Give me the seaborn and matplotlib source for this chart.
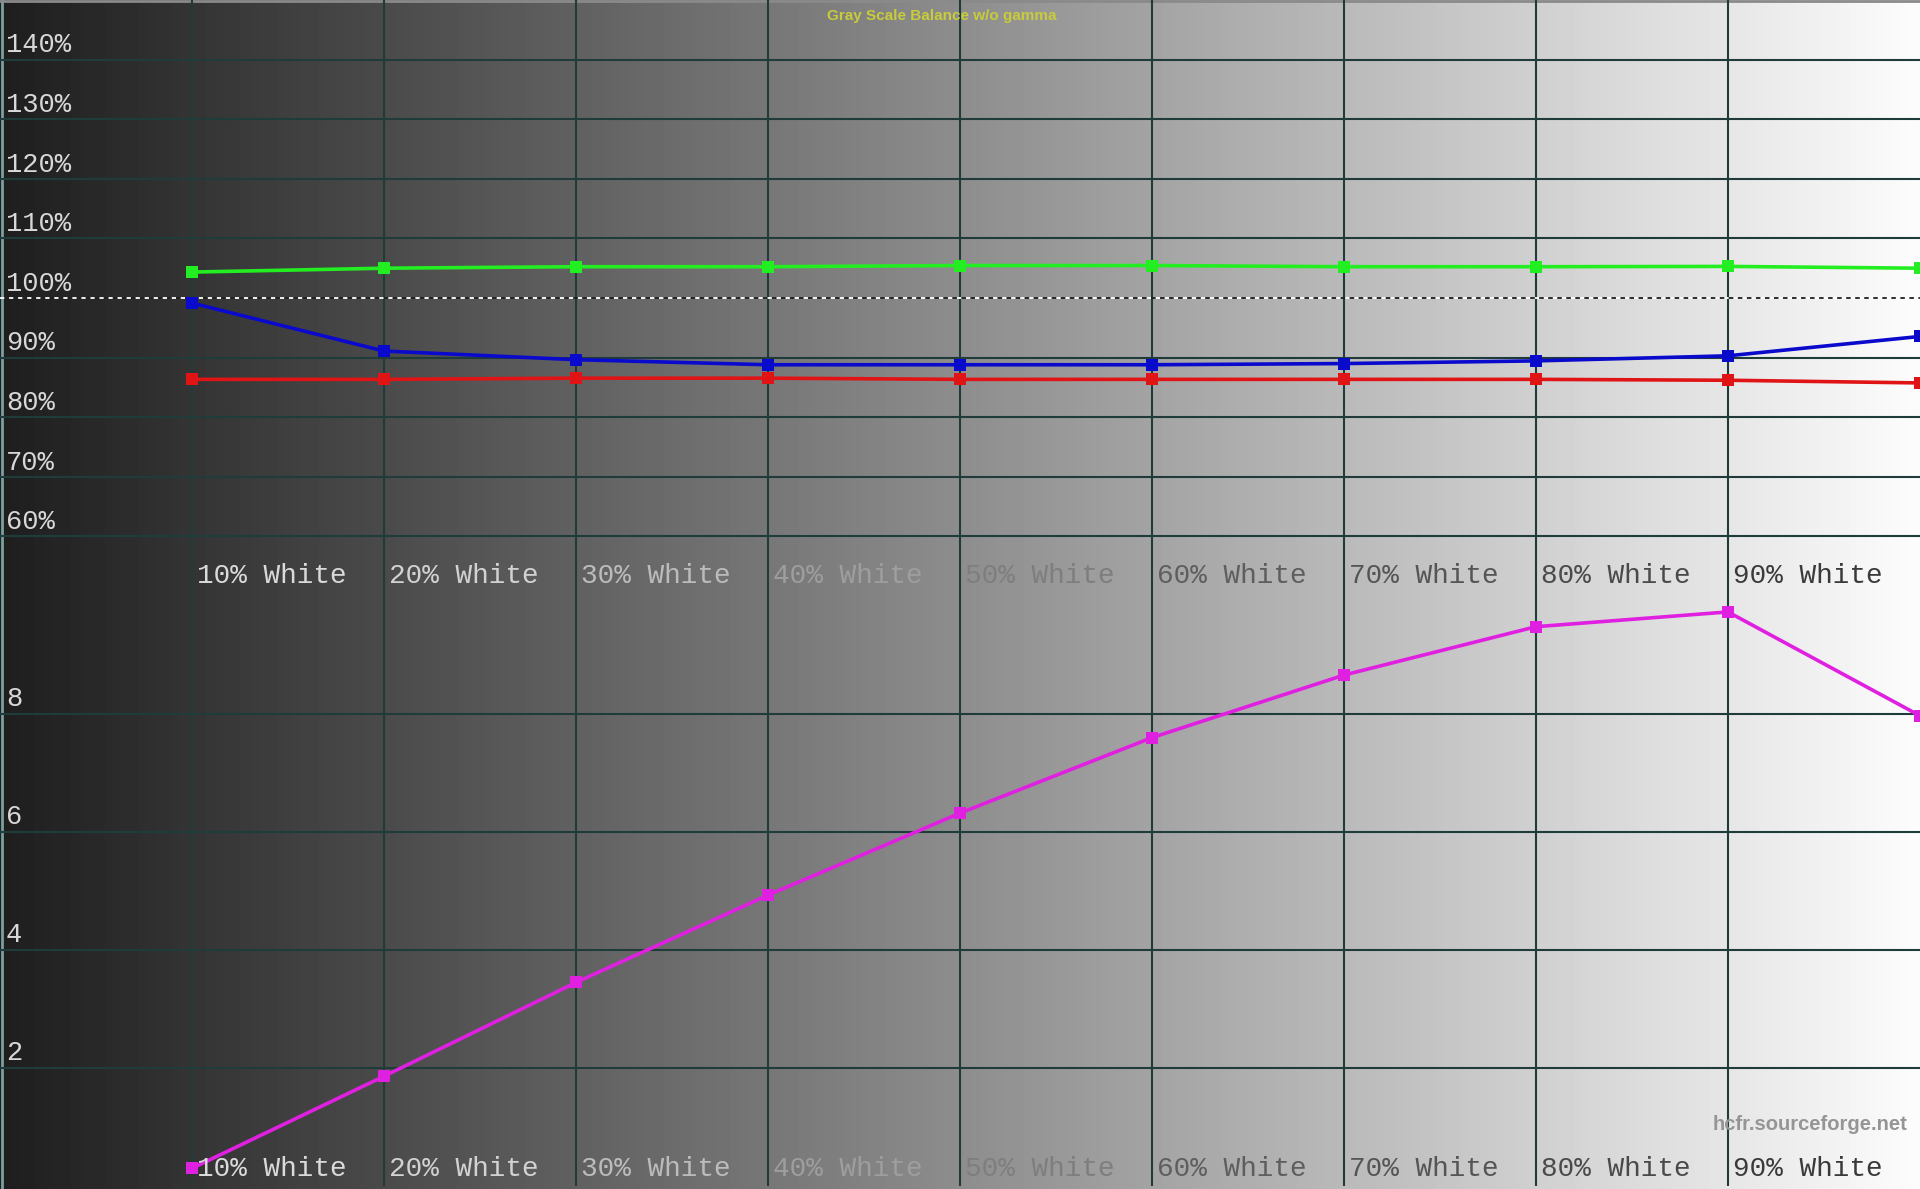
import numpy as np
import pandas as pd
import seaborn as sns
import matplotlib.pyplot as plt

# valeurs
levels = [10, 20, 30, 40, 50, 60, 70, 80, 90, 100]
red = [86.35, 86.35, 86.55, 86.55, 86.35, 86.35, 86.35, 86.35, 86.2, 85.75]
green = [104.35, 105.0, 105.25, 105.25, 105.45, 105.45, 105.25, 105.25, 105.3, 105.0]
blue = [99.15, 91.1, 89.65, 88.8, 88.8, 88.8, 89.0, 89.45, 90.3, 93.55]
delta_e = [0.3, 1.86, 3.45, 4.93, 6.32, 7.6, 8.66, 9.48, 9.73, 7.97]

pct_ticks = [60, 70, 80, 90, 100, 110, 120, 130, 140]
de_ticks = [2, 4, 6, 8]
x_labels = ['10% White', '20% White', '30% White', '40% White', '50% White',
            '60% White', '70% White', '80% White', '90% White']
x_label_colors = ['#dadada', '#d2d2d2', '#bcbcbc', '#9e9e9e', '#7e7e7e',
                  '#5e5e5e', '#555555', '#4a4a4a', '#3a3a3a']

W, H = 1920, 1189
fig = plt.figure(figsize=(W / 100, H / 100), dpi=100)

# fond en dégradé gris
bg = fig.add_axes([0, 0, 1, 1])
grad = np.linspace(0x1e, 0xfc, 512) / 255.0
bg.imshow(np.tile(grad, (2, 1)), cmap='gray', vmin=0, vmax=1, aspect='auto',
          extent=[0, 1, 0, 1])
bg.set_axis_off()

top_px, mid_px, bot_px = 0, 596, 1186
ax1 = fig.add_axes([0, (H - mid_px) / H, 1, (mid_px - top_px) / H])
ax2 = fig.add_axes([0, (H - bot_px) / H, 1, (bot_px - mid_px) / H])

grid_c = '#1f3b3a'
mono = 'Liberation Mono'

for ax in (ax1, ax2):
    ax.patch.set_alpha(0)
    for s in ax.spines.values():
        s.set_visible(False)
    for x in levels[:-1]:
        ax.axvline(x, color=grid_c, lw=1.5, zorder=1)

for v in pct_ticks:
    if v != 100:
        ax1.axhline(v, color=grid_c, lw=1.5, zorder=1)
    ax1.text(6 / W, v + 1.2, f'{v}%', transform=ax1.get_yaxis_transform(),
             fontsize=19.5, family=mono, color='#d8d8d8', va='baseline')
for v in de_ticks:
    ax2.axhline(v, color=grid_c, lw=1.5, zorder=1)
    ax2.text(6 / W, v + 0.14, f'{v}', transform=ax2.get_yaxis_transform(),
             fontsize=19.5, family=mono, color='#d8d8d8', va='baseline')

# ligne de référence 100% (pointillés blanc/noir)
ax1.axhline(100, color='white', lw=1.3, ls=(0, (2.5, 2.5)), zorder=2)
ax1.axhline(100, color='#202020', lw=1.3, ls=(2.5, (2.5, 2.5)), zorder=2)

df = pd.DataFrame({'level': levels, 'R': red, 'G': green, 'B': blue, 'dE': delta_e})
for col, c in [('G', '#22ee22'), ('B', '#0a0acc'), ('R', '#e01414')]:
    sns.lineplot(data=df, x='level', y=col, ax=ax1, color=c, lw=2.6,
                 marker='s', markersize=8, markeredgewidth=0, zorder=3)
sns.lineplot(data=df, x='level', y='dE', ax=ax2, color='#e020e0', lw=2.6,
             marker='s', markersize=9, markeredgewidth=0, zorder=3)

for ax in (ax1, ax2):
    ax.set_xlabel('')
    ax.set_ylabel('')
    ax.set_xticks([])
    ax.set_yticks([])
    ax.set_xlim(0, 100)
ax1.set_ylim(50, 150)
ax2.set_ylim(0, 10)

for x, lab, c in zip(levels, x_labels, x_label_colors):
    ax1.text(x + 0.25, 53.3, lab, fontsize=20, family=mono, color=c, va='center')
    ax2.text(x + 0.25, 0.29, lab, fontsize=20, family=mono, color=c, va='center')

fig.text(942 / W, 1 - 16 / H, 'Gray Scale Balance w/o gamma', ha='center',
         va='center', fontsize=11, fontweight='bold', family='Liberation Sans',
         color='#c8cc3a')
fig.text(1907 / W, 1 - 1125 / H, 'hcfr.sourceforge.net', ha='right', va='center',
         fontsize=14.5, fontweight='bold', family='Liberation Sans', color='#959595')

# bordures
bg.axvline(0.001, color='#7aa0a0', lw=2)
bg.axhline(0.999, color='#8a8a8a', lw=2)

fig.savefig('out.png', dpi=100)
